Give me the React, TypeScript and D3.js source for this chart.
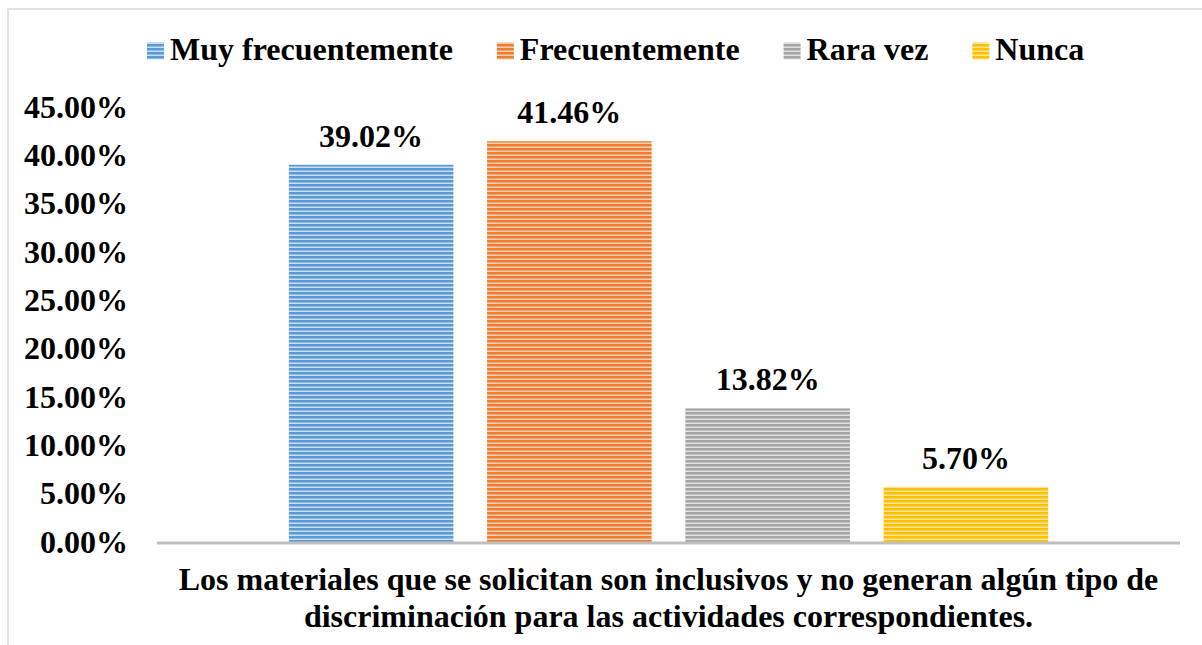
import React, { useEffect, useRef } from "react";
import * as d3 from "d3";

const series = ["Muy frecuentemente", "Frecuentemente", "Rara vez", "Nunca"];
const values = [39.02, 41.46, 13.82, 5.7];
const colors = ["#5B9BD5", "#ED7D31", "#A5A5A5", "#FFC000"];
const lightColors = ["#C9DCF1", "#F9CFB2", "#E0E0E0", "#FFE59A"];
const yTicks = [0, 5, 10, 15, 20, 25, 30, 35, 40, 45];
const titleLines = [
  "Los materiales que se solicitan son inclusivos y no generan algún tipo de",
  "discriminación para las actividades correspondientes.",
];

const FONT = "'Liberation Serif', 'Times New Roman', serif";

export default function App() {
  const ref = useRef<SVGSVGElement>(null);

  useEffect(() => {
    const svg = d3.select(ref.current);
    svg.selectAll("*").remove();

    const plotLeft = 157;
    const plotRight = 1180;
    const y0 = 542;
    const yTop = 107;

    const defs = svg.append("defs");
    series.forEach((s, i) => {
      const p = defs
        .append("pattern")
        .attr("id", `pat${i}`)
        .attr("patternUnits", "userSpaceOnUse")
        .attr("width", 8)
        .attr("height", 4);
      p.append("rect").attr("width", 8).attr("height", 4).attr("fill", lightColors[i]);
      p.append("rect").attr("y", 0).attr("width", 8).attr("height", 2.5).attr("fill", colors[i]);
    });

    // border
    svg
      .append("rect")
      .attr("x", 8)
      .attr("y", 9)
      .attr("width", 1400)
      .attr("height", 900)
      .attr("fill", "none")
      .attr("stroke", "#D9D9D9")
      .attr("stroke-width", 1.5);

    const x = d3
      .scaleBand<string>()
      .domain(series)
      .range([plotLeft, plotRight])
      .paddingInner(0.17)
      .paddingOuter(0.665);
    const y = d3.scaleLinear().domain([0, 45]).range([y0, yTop]);

    // y tick labels
    svg
      .append("g")
      .selectAll("text")
      .data(yTicks)
      .join("text")
      .attr("x", 128)
      .attr("y", (d) => y(d) + 10.5)
      .attr("text-anchor", "end")
      .attr("font-family", FONT)
      .attr("font-weight", "bold")
      .attr("font-size", 32)
      .attr("fill", "#000")
      .text((d) => d.toFixed(2) + "%");

    // bars
    svg
      .append("g")
      .selectAll("rect")
      .data(values)
      .join("rect")
      .attr("x", (d, i) => x(series[i])!)
      .attr("width", x.bandwidth())
      .attr("y", (d) => y(d))
      .attr("height", (d) => y0 - y(d))
      .attr("fill", (d, i) => `url(#pat${i})`);

    // value labels
    svg
      .append("g")
      .selectAll("text")
      .data(values)
      .join("text")
      .attr("x", (d, i) => x(series[i])! + x.bandwidth() / 2)
      .attr("y", (d) => y(d) - 18)
      .attr("text-anchor", "middle")
      .attr("font-family", FONT)
      .attr("font-weight", "bold")
      .attr("font-size", 32)
      .attr("fill", "#000")
      .text((d) => d.toFixed(2) + "%");

    // axis line
    svg
      .append("line")
      .attr("x1", plotLeft)
      .attr("x2", plotRight)
      .attr("y1", y0 + 1)
      .attr("y2", y0 + 1)
      .attr("stroke", "#BFBFBF")
      .attr("stroke-width", 3);

    // title
    const cx = (plotLeft + plotRight) / 2;
    svg
      .append("g")
      .selectAll("text")
      .data(titleLines)
      .join("text")
      .attr("x", cx)
      .attr("y", (d, i) => 590 + i * 37)
      .attr("text-anchor", "middle")
      .attr("font-family", FONT)
      .attr("font-weight", "bold")
      .attr("font-size", 32)
      .attr("fill", "#000")
      .text((d) => d);

    // legend
    const lg = svg.append("g");
    let lx = 147;
    series.forEach((s, i) => {
      lg.append("rect")
        .attr("x", lx)
        .attr("y", 42.5)
        .attr("width", 17)
        .attr("height", 17)
        .attr("fill", `url(#pat${i})`);
      const t = lg
        .append("text")
        .attr("x", lx + 23)
        .attr("y", 60)
        .attr("font-family", FONT)
        .attr("font-weight", "bold")
        .attr("font-size", 32)
        .attr("fill", "#000")
        .text(s);
      const w = (t.node() as SVGTextElement).getComputedTextLength();
      lx = lx + 23 + w + 44;
    });
  }, []);

  return (
    <svg
      ref={ref}
      width={1202}
      height={645}
      style={{ position: "absolute", left: 0, top: 0, display: "block", background: "#fff" }}
    />
  );
}
